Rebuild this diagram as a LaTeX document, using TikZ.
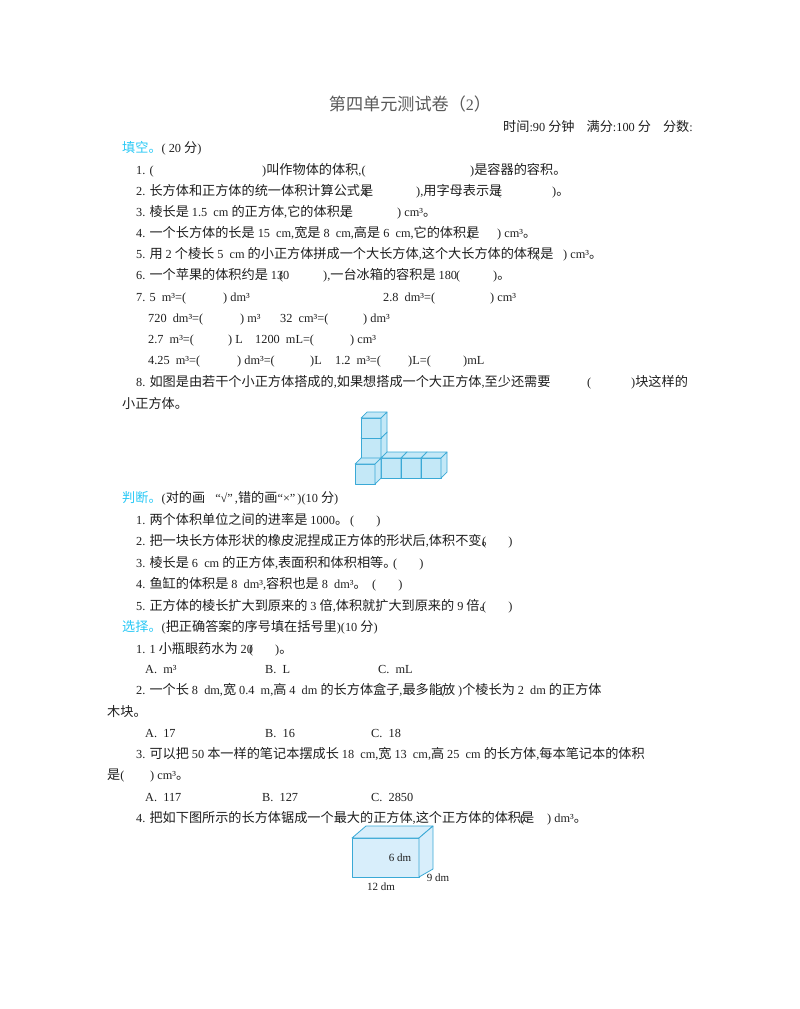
\documentclass[tikz,border=0pt]{standalone}
\usepackage{fontspec}
\setmainfont{Liberation Serif}
\newfontfamily\cjkfont[Scale=1.07]{Noto Sans CJK SC}
\newcommand\latfont{\rmfamily}
\XeTeXinterchartokenstate=1
\newXeTeXintercharclass\CJKcls
\newcount\cc
\cc="3000 \loop \XeTeXcharclass\cc=\CJKcls \advance\cc1 \ifnum\cc<"3040 \repeat
\cc="4E00 \loop \XeTeXcharclass\cc=\CJKcls \advance\cc1 \ifnum\cc<"A000 \repeat
\cc="FF00 \loop \XeTeXcharclass\cc=\CJKcls \advance\cc1 \ifnum\cc<"FFF0 \repeat
\XeTeXinterchartoks 0 \CJKcls={\cjkfont}
\XeTeXinterchartoks 4095 \CJKcls={\cjkfont}
\XeTeXinterchartoks \CJKcls 0={\latfont}
\XeTeXinterchartoks 4095 0={\latfont}
\definecolor{txt}{HTML}{1E1E1E}
\definecolor{sec}{RGB}{40,200,245}
\definecolor{cubefill}{HTML}{C4E8F7}
\definecolor{cubeline}{HTML}{3AA9D6}
\definecolor{boxfill}{HTML}{D8EEFB}
\newcommand\T[4]{\node[t] (#1) at (#2,#3) {#4};}
\newcommand\cubeat[2]{%
\filldraw[cubest] (#1,#2) rectangle ++(20,-20);
\filldraw[cubest] (#1,#2-20) -- ++(6,-6) -- ++(20,0) -- ++(-6,6) -- cycle;
\filldraw[cubest] (#1+20,#2) -- ++(6,-6) -- ++(0,-20) -- ++(-6,6) -- cycle;}
\begin{document}
\begin{tikzpicture}[x=1pt,y=-1pt,
 t/.style={inner sep=0pt,anchor=base west,text=txt,font=\fontsize{12.3}{14}\selectfont},
 cubest/.style={fill=cubefill,draw=cubeline,line width=0.7pt,line join=round},
 boxst/.style={fill=boxfill,draw=cubeline,line width=0.8pt,line join=round}]
\useasboundingbox (0,0) rectangle (800,1009);
\node[t,anchor=base,text=black!65,font=\fontsize{16}{18}\selectfont] (title) at (410,110) {第四单元测试卷（2）};
\node[t,anchor=base east] (hdr) at (693,131) {时间:90 分钟\hspace{12pt}满分:100 分\hspace{12pt}分数:};
\T{s1}{122}{152}{\textcolor{sec}{填空。}( 20 分)}
\T{a1}{136}{174}{1. (}\T{a1b}{262}{174}{)叫作物体的体积,(}\T{a1c}{470}{174}{)是容器的容积。}
\T{a2}{136}{195}{2. 长方体和正方体的统一体积计算公式是}\T{a2p}{364}{195}{(}\T{a2b}{416}{195}{),用字母表示是}\T{a2q}{497}{195}{(}\T{a2c}{552}{195}{)。}
\T{a3}{136}{216}{3. 棱长是 1.5~ cm 的正方体,它的体积是}\T{a3p}{345}{216}{(}\T{a3b}{397}{216}{) cm³。}
\T{a4}{136}{237}{4. 一个长方体的长是 15~ cm,宽是 8~ cm,高是 6~ cm,它的体积是}\T{a4p}{468}{237}{(}\T{a4b}{497}{237}{) cm³。}
\T{a5}{136}{258}{5. 用 2 个棱长 5~ cm 的小正方体拼成一个大长方体,这个大长方体的体积是}\T{a5p}{535}{258}{(}\T{a5b}{563}{258}{) cm³。}
\T{a6}{136}{279}{6. 一个苹果的体积约是 130}\T{a6p}{279}{279}{(}\T{a6b}{323}{279}{),一台冰箱的容积是 180}\T{a6q}{456}{279}{(}\T{a6c}{493}{279}{)。}
\T{a7}{136}{301}{7. 5~ m³=(}\T{a7b}{223}{301}{) dm³}\T{a7c}{383}{301}{2.8~ dm³=(}\T{a7d}{490}{301}{) cm³}
\T{a7e}{148}{322}{720~ dm³=(}\T{a7f}{240}{322}{) m³}\T{a7g}{280}{322}{32~ cm³=(}\T{a7h}{363}{322}{) dm³}
\T{a7i}{148}{343}{2.7~ m³=(}\T{a7j}{228}{343}{) L}\T{a7k}{255}{343}{1200~ mL=(}\T{a7l}{350}{343}{) cm³}
\T{a7m}{148}{364}{4.25~ m³=(}\T{a7n}{237}{364}{) dm³=(}\T{a7o}{310}{364}{)L}\T{a7p}{335}{364}{1.2~ m³=(}\T{a7q}{408}{364}{)L=(}\T{a7r}{463}{364}{)mL}
\T{a8}{136}{386}{8. 如图是由若干个小正方体搭成的,如果想搭成一个大正方体,至少还需要}\T{a8p}{587}{386}{(}\T{a8b}{631}{386}{)块这样的}
\T{a8c}{122}{408}{小正方体。}
\cubeat{361}{478}\cubeat{361}{458}\cubeat{361}{438}
\cubeat{381}{478}\cubeat{401}{478}\cubeat{421}{478}
\cubeat{355}{484}
\T{s2}{122}{502}{\textcolor{sec}{判断。}(对的画\hspace{10pt}“√”\,,错的画“×”\,)(10 分)}
\T{b1}{136}{524}{1. 两个体积单位之间的进率是 1000。}\T{b1b}{350}{524}{(\hspace{22pt})}
\T{b2}{136}{545}{2. 把一块长方体形状的橡皮泥捏成正方体的形状后,体积不变。}\T{b2b}{482}{545}{(\hspace{22pt})}
\T{b3}{136}{567}{3. 棱长是 6~ cm 的正方体,表面积和体积相等。}\T{b3b}{393}{567}{(\hspace{22pt})}
\T{b4}{136}{588}{4. 鱼缸的体积是 8~ dm³,容积也是 8~ dm³。}\T{b4b}{372}{588}{(\hspace{22pt})}
\T{b5}{136}{610}{5. 正方体的棱长扩大到原来的 3 倍,体积就扩大到原来的 9 倍。}\T{b5b}{482}{610}{(\hspace{22pt})}
\T{s3}{122}{631}{\textcolor{sec}{选择。}(把正确答案的序号填在括号里)(10 分)}
\T{c1}{136}{653}{1. 1 小瓶眼药水为 20}\T{c1p}{249}{653}{(}\T{c1b}{275}{653}{)。}
\T{c1A}{145}{673}{A.~ m³}\T{c1B}{265}{673}{B.~ L}\T{c1C}{378}{673}{C.~ mL}
\T{c2}{136}{694}{2. 一个长 8~ dm,宽 0.4~ m,高 4~ dm 的长方体盒子,最多能放}\T{c2p}{440}{694}{(}\T{c2b}{458}{694}{)个棱长为 2~ dm 的正方体}
\T{c2c}{107}{716}{木块。}
\T{c2A}{145}{737}{A.~ 17}\T{c2B}{265}{737}{B.~ 16}\T{c2C}{371}{737}{C.~ 18}
\T{c3}{136}{758}{3. 可以把 50 本一样的笔记本摆成长 18~ cm,宽 13~ cm,高 25~ cm 的长方体,每本笔记本的体积}
\T{c3b}{107}{779}{是(}\T{c3c}{150}{779}{) cm³。}
\T{c3A}{145}{801}{A.~ 117}\T{c3B}{262}{801}{B.~ 127}\T{c3C}{371}{801}{C.~ 2850}
\T{c4}{136}{822}{4. 把如下图所示的长方体锯成一个最大的正方体,这个正方体的体积是}\T{c4p}{520}{822}{(}\T{c4b}{547}{822}{) dm³。}
\filldraw[boxst] (352,877) rectangle (419,838);
\filldraw[boxst] (352,838) -- (366,826) -- (433,826) -- (419,838) -- cycle;
\filldraw[boxst] (419,838) -- (433,826) -- (433,869) -- (419,877) -- cycle;
\node[t,anchor=base,font=\fontsize{11}{12}\selectfont] (l6) at (400,861) {6 dm};
\node[t,anchor=base,font=\fontsize{11}{12}\selectfont] (l12) at (381,890) {12 dm};
\node[t,anchor=base,font=\fontsize{11}{12}\selectfont] (l9) at (438,881) {9 dm};
\end{tikzpicture}
\end{document}
